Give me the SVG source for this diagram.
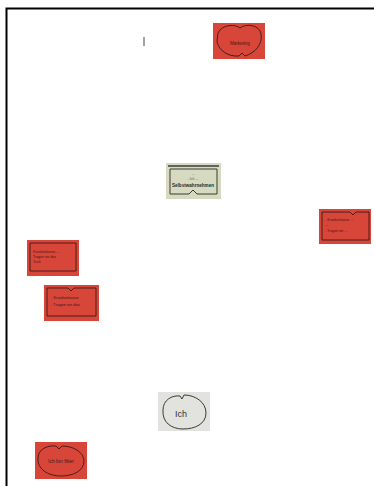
<svg xmlns="http://www.w3.org/2000/svg" width="374" height="486" viewBox="0 0 374 486">
<style>
.red{fill:#d8463a;}
.ink{fill:none;stroke:#3a1a16;stroke-width:0.9;}
.t{font-family:"Liberation Sans",Arial,sans-serif;fill:#3a1a16;}
.gink{fill:none;stroke:#3c3c34;stroke-width:1;}
</style>
<rect width="374" height="486" fill="#ffffff"/>
<path d="M6.5,486 V8.5 H374" fill="none" stroke="#000" stroke-width="2"/>
<line x1="144" y1="37" x2="144" y2="46" stroke="#666" stroke-width="1.2"/>

<g id="card-top">
<rect x="213" y="23" width="52" height="36" class="red"/>
<path class="ink" d="M218,33 C222,24 236,24 240,28 C246,23 260,25 261,34 C263,44 255,53 245,56 L242,53 L239,56 C228,57 218,50 217,41 Z"/>
<text x="240" y="45" class="t" font-size="4.5" text-anchor="middle">Marketing</text>
</g>

<g id="card-green">
<rect x="166" y="163" width="55" height="36" fill="#d6dac0"/>
<path class="gink" d="M170,169 H217 V194 H197 L193,190 L189,194 H170 Z"/>
<line x1="168" y1="166" x2="219" y2="166" stroke="#3c3c34" stroke-width="1.5"/>
<text x="193" y="187" font-family="Liberation Sans,Arial,sans-serif" font-size="5.5" font-weight="bold" fill="#2a2a24" text-anchor="middle" textLength="42" lengthAdjust="spacingAndGlyphs">Selbstwahrnehmen</text>
<text x="193" y="180" font-family="Liberation Sans,Arial,sans-serif" font-size="3.5" fill="#55554a" text-anchor="middle">- Ich ...</text>
<text x="193" y="175" font-family="Liberation Sans,Arial,sans-serif" font-size="3.5" fill="#55554a" text-anchor="middle">...</text>
</g>

<g id="card-right">
<rect x="319" y="209" width="52" height="35" class="red"/>
<path class="ink" d="M322,212 H350 L353,215 L356,212 H369 V240 H322 Z"/>
<text x="325" y="221" class="t" font-size="3.5">- Krankenkasse ...</text>
<text x="325" y="226" class="t" font-size="3.5">...</text>
<text x="325" y="232" class="t" font-size="3.5">- Tragen wir ...</text>
</g>

<g id="card-left1">
<rect x="27" y="240" width="52" height="36" class="red"/>
<path class="ink" d="M30,243 H76 V271 H30 Z"/>
<text x="33" y="253" class="t" font-size="3.5">Krankenkasse ...</text>
<text x="33" y="258" class="t" font-size="3.5">Tragen wir das</text>
<text x="33" y="263" class="t" font-size="3.5">Tuch</text>
</g>

<g id="card-left2">
<rect x="44" y="285" width="55" height="36" class="red"/>
<path class="ink" d="M47,288 H68 L71,291 L74,288 H96 V316 H47 Z"/>
<text x="51" y="299" class="t" font-size="4">- Krankenkasse</text>
<text x="51" y="306" class="t" font-size="4">- Tragen wir das</text>
</g>

<g id="card-ich">
<rect x="158" y="392" width="52" height="39" fill="#e2e2de"/>
<path class="gink" d="M163,410 C163,400 172,395 180,396 L182,399 L184,395 C195,395 206,402 206,413 C206,424 195,429 183,429 C171,429 162,422 163,410 Z"/>
<text x="181" y="417" font-family="Liberation Sans,Arial,sans-serif" font-size="9" fill="#333330" text-anchor="middle">Ich</text>
</g>

<g id="card-bottom">
<rect x="35" y="442" width="52" height="37" class="red"/>
<path class="ink" d="M38,458 C38,449 48,445 56,446 L59,449 L62,446 C73,446 84,452 84,461 C84,471 73,476 61,476 C48,476 37,469 38,458 Z"/>
<text x="61" y="463" class="t" font-size="5" text-anchor="middle">Ich bin fitter</text>
</g>
</svg>
